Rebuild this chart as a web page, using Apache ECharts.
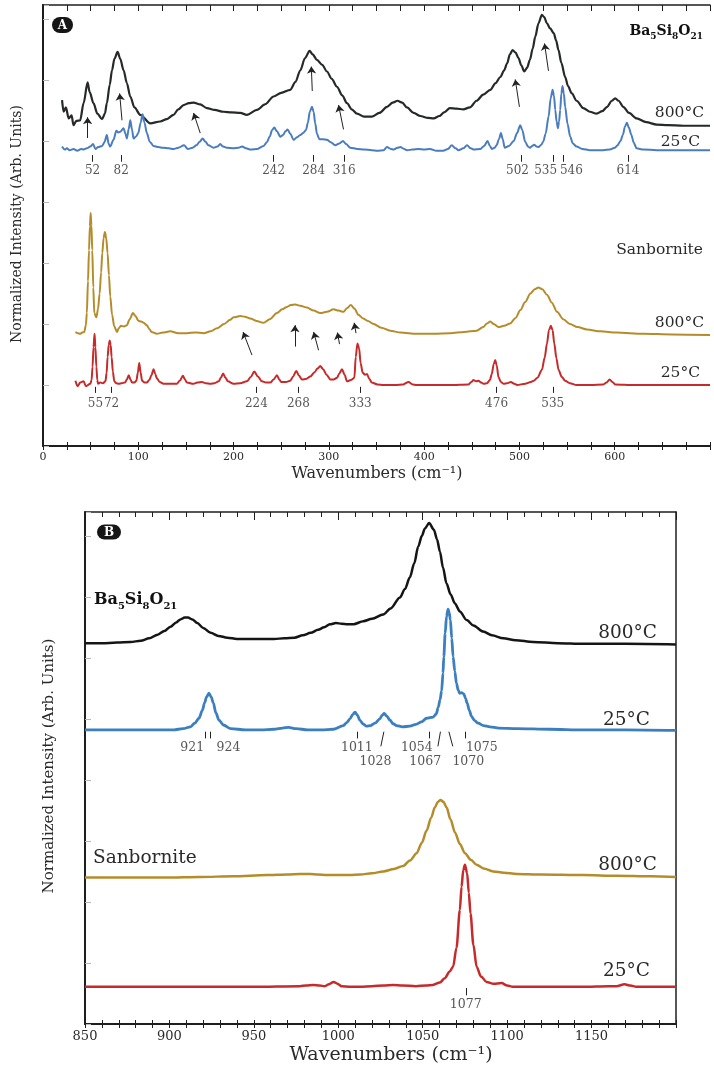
<!DOCTYPE html>
<html>
<head>
<meta charset="utf-8">
<script src="https://cdn.jsdelivr.net/npm/echarts@6/dist/echarts.min.js"></script>
<style>
html, body { margin: 0; padding: 0; background: #fff; }
#chart { width: 714px; height: 1072px; }
</style>
</head>
<body>
<div id="chart"></div>
<script>
// === DATA ===
// Panel A, Ba5Si8O21 800°C
const a800Ba = [[20,5.67],[21.6,5.48],[24,5.55],[27,5.37],[30,5.42],[32,5.26],[35,5.33],[39,5.34],[42.6,5.62],[46.8,5.96],[49,5.80],[53,5.62],[57,5.45],[62,5.36],[65,5.45],[67,5.62],[70,5.92],[72.4,6.16],[75,6.35],[78.3,6.46],[81,6.35],[84.6,6.16],[88,5.95],[91.6,5.73],[96,5.55],[102,5.43],[112.6,5.29],[123,5.32],[130,5.36],[137,5.43],[142,5.52],[147.5,5.59],[153,5.62],[158,5.63],[165,5.60],[172,5.54],[180,5.51],[189.5,5.48],[198,5.47],[207,5.46],[214,5.43],[224.5,5.51],[233,5.60],[242,5.73],[250,5.79],[259.5,5.84],[265,5.97],[270,6.16],[275,6.36],[279.8,6.48],[283,6.42],[287.5,6.33],[293,6.25],[298,6.14],[303,6.02],[308.5,5.89],[314,5.75],[319,5.62],[324,5.52],[329.5,5.45],[337,5.40],[345,5.40],[353,5.46],[361,5.56],[367,5.63],[372,5.66],[377,5.63],[382,5.55],[389,5.46],[396,5.41],[404,5.38],[410,5.37],[416,5.41],[421,5.47],[427,5.54],[434,5.53],[441,5.52],[448,5.55],[455,5.66],[462,5.76],[469.4,5.84],[475,5.95],[480,6.05],[484,6.16],[487,6.27],[490,6.42],[492.8,6.49],[496,6.45],[499,6.36],[502,6.24],[505,6.14],[508,6.20],[511,6.33],[514,6.52],[516.6,6.71],[520,6.93],[523.6,7.07],[526,7.03],[528.9,6.93],[532,6.85],[536,6.77],[538.5,6.65],[541,6.49],[544,6.28],[548,6.05],[551,5.90],[555,5.78],[560,5.66],[567,5.54],[574,5.48],[581,5.45],[587,5.49],[592,5.56],[597,5.66],[600.5,5.70],[604,5.66],[609,5.56],[615,5.46],[623,5.37],[633,5.31],[644,5.27],[656,5.26],[672,5.25],[700,5.25]];
// Panel A, Ba5Si8O21 25°C
const a25Ba = [[20,4.91],[23,4.86],[25,4.88],[28,4.85],[32,4.87],[36,4.84],[40,4.87],[42.6,4.86],[46,4.88],[49.6,4.91],[52.5,4.95],[55,4.87],[58,4.90],[62,4.92],[64.5,4.98],[67,5.10],[69,4.95],[70.5,4.91],[74,5.02],[77,5.17],[79,5.14],[81,5.15],[84.6,5.21],[86.5,5.12],[88,5.04],[90,5.20],[91.6,5.34],[93.5,5.18],[95,5.04],[98,5.08],[100,5.13],[102.5,5.30],[104.5,5.44],[106.5,5.30],[109,5.13],[112,4.99],[116,4.92],[121,4.90],[126,4.89],[132,4.88],[137,4.87],[142,4.89],[148,4.93],[152,4.87],[157,4.89],[161,4.93],[164.5,4.99],[167.5,5.04],[170.5,4.99],[173.6,4.93],[179,4.89],[183,4.91],[186,4.95],[189,4.91],[193,4.89],[200,4.88],[205,4.89],[209,4.91],[213,4.88],[218,4.86],[225,4.87],[231.5,4.92],[235,4.98],[237.8,5.07],[240.5,5.18],[242.7,5.22],[245.5,5.16],[249,5.07],[252,5.10],[254.5,5.16],[256.7,5.19],[259.5,5.12],[263,5.02],[266.5,5.06],[270,5.10],[273,5.13],[276,5.18],[278,5.30],[280,5.48],[282.3,5.56],[284,5.48],[285.7,5.29],[287.5,5.12],[290,5.03],[294,5.03],[298,5.02],[302,4.98],[306.7,4.93],[311,4.96],[314.8,5.00],[318,4.95],[322.5,4.89],[330,4.87],[337,4.86],[345,4.85],[351,4.84],[357.5,4.85],[361,4.90],[365,4.87],[368,4.86],[372,4.89],[375,4.90],[379,4.87],[382,4.85],[388,4.86],[394,4.87],[400,4.86],[406,4.87],[413,4.84],[420,4.84],[425,4.87],[429,4.93],[433,4.88],[436,4.85],[441,4.88],[445,4.93],[449,4.88],[451.7,4.86],[459,4.87],[463,4.92],[466.5,5.00],[469,4.92],[471,4.87],[474,4.89],[476,4.93],[478.5,5.03],[480.6,5.13],[482.5,5.03],[484.5,4.89],[489,4.92],[494,5.00],[497.5,5.13],[500.8,5.26],[503,5.18],[506,4.99],[509,4.91],[511,4.89],[513.5,4.92],[515.5,4.94],[518,4.91],[520,4.90],[523,4.94],[525,4.99],[527.5,5.12],[530.6,5.40],[532.8,5.70],[534.8,5.84],[536.3,5.74],[537.6,5.51],[539,5.32],[540.4,5.21],[541.6,5.32],[542.8,5.51],[544,5.78],[545.2,5.90],[546.6,5.78],[548,5.56],[550.5,5.28],[553.3,5.07],[556,4.96],[560,4.91],[566,4.87],[574,4.85],[581,4.85],[588,4.85],[595,4.86],[600,4.89],[603,4.93],[606,5.00],[608.6,5.10],[610.8,5.24],[612.8,5.30],[614.8,5.22],[617.5,5.10],[620,4.97],[623,4.88],[630,4.86],[644,4.85],[670,4.85],[700,4.85]];
// Panel A, Sanbornite 800°C
const a800San = [[34,1.87],[36.5,1.85],[39,1.84],[41,1.86],[43.3,1.87],[45,1.98],[46,2.18],[47.2,2.70],[48.3,3.21],[49.2,3.60],[50,3.82],[50.8,3.62],[51.7,3.21],[52.8,2.60],[53.8,2.18],[56,2.11],[57.8,2.25],[59.4,2.50],[61,2.85],[62.2,3.16],[63.6,3.41],[65,3.51],[66.4,3.40],[67.8,3.16],[69.2,2.80],[70.6,2.45],[72.5,2.15],[74.8,1.96],[77.6,1.87],[79.5,1.93],[81.8,1.97],[85,1.96],[88,1.98],[91,2.08],[94.4,2.18],[97,2.13],[100.3,2.05],[103,2.04],[105.6,2.02],[109,1.98],[111.5,1.92],[114,1.87],[119.5,1.84],[126,1.86],[133.5,1.88],[142,1.85],[151,1.85],[160,1.86],[168.7,1.85],[176,1.88],[182.6,1.93],[190,2.00],[196.5,2.07],[200,2.11],[207,2.13],[212,2.12],[217.5,2.09],[224,2.05],[231.5,2.02],[238,2.08],[245.5,2.18],[251,2.24],[256,2.28],[260,2.31],[264.7,2.32],[270,2.30],[277,2.27],[284,2.22],[291,2.18],[298,2.20],[305,2.24],[310,2.22],[315.4,2.20],[319,2.26],[323,2.31],[327,2.25],[331,2.15],[336,2.09],[341,2.05],[347,2.00],[355,1.94],[364.4,1.89],[375,1.86],[392.4,1.84],[410,1.84],[427.4,1.85],[442,1.87],[455,1.89],[462,1.95],[466,2.01],[469.4,2.04],[473,2.00],[478,1.95],[484,1.97],[490.3,2.01],[496,2.10],[501,2.23],[506,2.36],[511.5,2.50],[516,2.57],[520,2.60],[524,2.57],[528.9,2.48],[534,2.35],[539.4,2.20],[546,2.08],[553,2.00],[561,1.95],[570.8,1.91],[585,1.88],[602,1.86],[630,1.84],[660,1.83],[700,1.82]];
// Panel A, Sanbornite 25°C
const a25San = [[34,1.07],[36.4,0.98],[39,1.04],[42.6,1.06],[45,0.98],[49.6,1.02],[51,1.08],[52,1.30],[53,1.62],[54.1,1.84],[55,1.62],[56,1.30],[57,1.08],[57.7,1.02],[60,1.04],[63,1.03],[65.5,1.06],[66.8,1.20],[67.8,1.46],[69,1.66],[70,1.73],[71,1.66],[72,1.46],[73.3,1.22],[74.8,1.06],[77,1.03],[79.5,1.02],[82.5,1.03],[86,1.04],[88,1.09],[90,1.16],[91.8,1.09],[93.4,1.04],[96,1.04],[98,1.07],[99.5,1.20],[101,1.36],[102.5,1.20],[104,1.07],[106.5,1.04],[109,1.04],[111.5,1.08],[113.8,1.16],[116,1.26],[117.8,1.18],[119.5,1.11],[122.5,1.05],[126.5,1.02],[133,1.02],[140.5,1.02],[143.5,1.07],[146.8,1.15],[149,1.09],[151,1.04],[158,1.02],[162,1.04],[166.8,1.05],[171,1.03],[175.6,1.02],[180,1.03],[184.4,1.06],[186.7,1.12],[189,1.19],[191.5,1.12],[194,1.06],[200,1.02],[207,1.03],[214,1.06],[218,1.13],[221.7,1.22],[225.5,1.14],[229.8,1.06],[234,1.04],[238.5,1.04],[242,1.09],[245.5,1.16],[248,1.09],[250,1.05],[255,1.05],[259.5,1.07],[262.5,1.14],[265.8,1.23],[268.8,1.15],[271.8,1.09],[276,1.10],[280.5,1.14],[285,1.21],[288,1.27],[291,1.31],[294,1.26],[297.5,1.17],[301.6,1.09],[305,1.09],[308.6,1.12],[311,1.19],[313.7,1.26],[316.5,1.17],[319,1.06],[323,1.08],[326.8,1.12],[328.2,1.46],[330,1.68],[331.8,1.60],[333.3,1.36],[335.5,1.20],[338,1.17],[340,1.18],[342.5,1.10],[345,1.04],[351,1.01],[357.5,1.00],[370,1.00],[378,1.01],[383.6,1.05],[388,1.01],[392,1.00],[410,1.00],[427.4,1.00],[446.6,1.01],[449.5,1.05],[451.8,1.08],[454.5,1.06],[457,1.07],[460,1.04],[462.4,1.02],[466,1.03],[469,1.08],[471,1.18],[473,1.34],[474.6,1.41],[476.2,1.32],[478,1.13],[480.5,1.05],[483.5,1.02],[487,1.03],[491,1.05],[494.5,1.02],[497.6,1.00],[506,1.02],[512,1.05],[515,1.07],[519,1.12],[523.6,1.25],[526.5,1.45],[528.9,1.68],[531,1.90],[533,1.97],[534.8,1.90],[536.6,1.68],[538.8,1.44],[541,1.25],[544.5,1.13],[548,1.07],[553,1.03],[560,1.00],[575,1.00],[588,1.01],[591.5,1.04],[594.6,1.09],[597.5,1.05],[600.5,1.01],[620,1.00],[660,1.00],[700,1.00]];

// Panel B, Ba5Si8O21 800°C
const b800Ba = [[850,6.24],[860,6.24],[869,6.25],[877,6.26],[883,6.28],[888,6.32],[893,6.38],[897,6.44],[900.6,6.51],[904,6.58],[906.5,6.63],[909,6.66],[911,6.66],[913.5,6.63],[916.5,6.57],[920,6.49],[924.4,6.41],[929,6.36],[934.3,6.33],[940,6.31],[946,6.31],[954,6.31],[962,6.31],[968,6.32],[974,6.33],[979,6.37],[983.7,6.41],[988,6.46],[991.6,6.50],[995,6.55],[998.6,6.57],[1002,6.56],[1005.5,6.55],[1009,6.55],[1014.8,6.60],[1020,6.64],[1026.6,6.71],[1031,6.81],[1036.5,6.99],[1039.5,7.13],[1042.4,7.32],[1045,7.55],[1047.3,7.82],[1049.5,8.00],[1051.3,8.12],[1053.8,8.21],[1056.6,8.10],[1058.5,7.94],[1060.2,7.74],[1062,7.48],[1064.1,7.22],[1066.5,7.04],[1069.1,6.89],[1072,6.76],[1076,6.62],[1080,6.53],[1085.8,6.43],[1091,6.37],[1097.7,6.32],[1105,6.29],[1115.4,6.26],[1130,6.24],[1145,6.23],[1170,6.23],[1200,6.22]];
// Panel B, Ba5Si8O21 25°C
const b25Ba = [[850,4.82],[879,4.82],[902.5,4.82],[908,4.84],[912.5,4.87],[915,4.93],[917.5,5.01],[919.5,5.14],[920.8,5.26],[922,5.36],[923.4,5.42],[924.7,5.36],[926,5.26],[927.5,5.10],[929.3,4.98],[932,4.90],[936.3,4.84],[945,4.82],[954,4.82],[962,4.83],[967,4.85],[970.6,4.86],[975,4.84],[982,4.82],[990,4.82],[997,4.83],[1003,4.89],[1005,4.94],[1006.9,5.00],[1008.5,5.07],[1009.9,5.11],[1011.3,5.06],[1012.8,4.98],[1014.5,4.92],[1016.8,4.88],[1019,4.89],[1021.7,4.93],[1024.6,5.00],[1026,5.06],[1027.2,5.09],[1028.6,5.05],[1030.6,4.98],[1032.5,4.92],[1034.5,4.89],[1038,4.87],[1042.4,4.88],[1046,4.91],[1049.3,4.95],[1052.3,5.01],[1056.2,5.03],[1058,5.08],[1059.2,5.19],[1060.3,5.32],[1061.2,5.46],[1062,5.75],[1062.5,6.02],[1063.3,6.40],[1064.1,6.68],[1065,6.80],[1065.7,6.74],[1066.4,6.62],[1067.2,6.32],[1068,6.02],[1069,5.78],[1070,5.58],[1071,5.47],[1071.9,5.42],[1073,5.43],[1074.3,5.41],[1075.3,5.34],[1076.3,5.26],[1077.6,5.14],[1078.9,5.04],[1080.8,4.97],[1082.8,4.93],[1086,4.89],[1089.8,4.87],[1095,4.85],[1105.6,4.84],[1125,4.83],[1145,4.82],[1170,4.82],[1200,4.81]];
// Panel B, Sanbornite 800°C
const b800San = [[850,2.40],[875,2.40],[898,2.40],[918,2.41],[937.8,2.42],[957.6,2.44],[970,2.45],[977.3,2.46],[983.2,2.46],[988,2.45],[993,2.44],[1000,2.44],[1006.8,2.44],[1013,2.45],[1020,2.47],[1026.6,2.50],[1033,2.54],[1038.4,2.59],[1042.5,2.68],[1046.4,2.80],[1049.5,2.97],[1052.3,3.17],[1055,3.38],[1057.2,3.55],[1059,3.64],[1060.6,3.67],[1062.3,3.64],[1064.1,3.55],[1066.5,3.35],[1069.1,3.14],[1072,2.95],[1075,2.80],[1078.5,2.69],[1081.9,2.61],[1086,2.55],[1091.8,2.50],[1098,2.48],[1105.6,2.46],[1120,2.45],[1145,2.44],[1165,2.43],[1185,2.42],[1200,2.41]];
// Panel B, Sanbornite 25°C
const b25San = [[850,0.61],[880,0.61],[918,0.61],[950,0.61],[977.3,0.62],[981,0.63],[985.2,0.64],[989,0.63],[992,0.62],[994.5,0.65],[997.2,0.69],[999.5,0.66],[1002,0.62],[1007,0.61],[1013,0.61],[1020,0.62],[1027,0.63],[1032.5,0.64],[1038,0.63],[1046,0.62],[1052,0.63],[1056,0.64],[1060.2,0.68],[1063,0.75],[1066,0.86],[1068,0.94],[1070,1.25],[1072,1.87],[1073,2.25],[1074,2.52],[1075,2.61],[1076.3,2.47],[1077.3,2.15],[1078.3,1.81],[1080,1.30],[1081.9,0.94],[1084.5,0.78],[1087.8,0.69],[1092,0.66],[1096.7,0.67],[1100,0.63],[1103.4,0.61],[1120,0.61],[1145,0.61],[1160,0.62],[1164.7,0.62],[1169.6,0.65],[1173,0.63],[1176.5,0.61],[1190,0.61],[1200,0.61]];

// peak labels
const aBaPeaks = [52, 82, 242, 284, 316, 502, 535, 546, 614];
const aSanPeaks = [55, 72, 224, 268, 333, 476, 535];
const bBaPeaks = [921, 924, 1011, 1028, 1054, 1067, 1070, 1075];
const bSanPeaks = [1077];

// arrows (tail -> head)
const aBaArrows = [[[46.8,5.05],[46.8,5.39]],[[82.9,5.34],[80.4,5.78]],[[165,5.13],[158,5.46]],[[282.6,5.82],[281.6,6.22]],[[315.4,5.19],[310.2,5.59]],[[500,5.56],[495.6,6.01]],[[530.5,6.15],[526.3,6.60]]];
const aSanArrows = [[[219.3,1.49],[210,1.87]],[[264.4,1.63],[264.4,1.98]],[[289.2,1.57],[284,1.87]],[[311.2,1.67],[309,1.86]],[[328.5,1.85],[326.6,2.02]]];

// === STYLE ===
const FONT = 'DejaVu Serif';
const INK = '#1e1e1e';
const TXT = '#2a2a2a';
const C_BLACK = '#252a29';
const C_BLUE = '#4a7cc0';
const C_GOLD = '#b58c2a';
const C_RED = '#c62a2a';

function xAxes(gi, min, max, interval, split, fs, topMajor, topMinor) {
    return [
        { gridIndex: gi, type: 'value', position: 'bottom', min: min, max: max, interval: interval,
          axisLine: { lineStyle: { color: INK, width: 2 } },
          axisTick: { inside: false, length: 4, lineStyle: { color: INK, width: 1 } },
          minorTick: { show: true, splitNumber: split, length: 4, lineStyle: { color: INK, width: 1 } },
          axisLabel: { fontFamily: FONT, fontSize: fs, color: TXT, margin: 6, showMaxLabel: false,
                       formatter: v => String(v) },
          splitLine: { show: false } },
        { gridIndex: gi, type: 'value', position: 'bottom', min: min, max: max, interval: interval,
          axisLine: { show: false },
          axisTick: { inside: true, length: 4, lineStyle: { color: INK, width: 1 } },
          minorTick: { show: true, splitNumber: split, length: 4, lineStyle: { color: INK, width: 1 } },
          axisLabel: { show: false }, splitLine: { show: false } },
        { gridIndex: gi, type: 'value', position: 'top', min: min, max: max, interval: interval,
          axisLine: { lineStyle: { color: INK, width: 1.5 } },
          axisTick: { inside: true, length: topMajor, lineStyle: { color: INK, width: 1 } },
          minorTick: { show: true, splitNumber: split, length: topMinor, lineStyle: { color: INK, width: 1 } },
          axisLabel: { show: false }, splitLine: { show: false } }
    ];
}

function yAxes(gi, max) {
    return [
        { gridIndex: gi, type: 'value', position: 'left', min: 0, max: max, interval: 1,
          axisLine: { lineStyle: { color: INK, width: 2 } },
          axisTick: { inside: true, length: 6, lineStyle: { color: '#b8b8b8', width: 1 } },
          axisLabel: { show: false }, splitLine: { show: false } },
        { gridIndex: gi, type: 'value', position: 'right', min: 0, max: max,
          axisLine: { lineStyle: { color: INK, width: 1.5 } },
          axisTick: { show: false }, axisLabel: { show: false }, splitLine: { show: false } }
    ];
}

function curve(data, color, xi, yi, w) {
    return { type: 'line', data: data, xAxisIndex: xi, yAxisIndex: yi, showSymbol: false,
             smooth: 0.3, smoothMonotone: 'x', silent: true,
             lineStyle: { color: color, width: w } };
}

function segs(list, xi, yi, arrow) {
    return { type: 'lines', coordinateSystem: 'cartesian2d', xAxisIndex: xi, yAxisIndex: yi, silent: true,
             data: list.map(c => ({ coords: c })),
             symbol: arrow ? ['none', 'arrow'] : 'none', symbolSize: 7,
             lineStyle: { color: '#222', width: 1, opacity: 1 } };
}

function texts(list, xi, yi, fs) {
    return { type: 'scatter', xAxisIndex: xi, yAxisIndex: yi, symbolSize: 0, silent: true,
             data: list.map(t => ({ name: t[0], value: [t[1], t[2]] })),
             label: { show: true, position: 'inside', formatter: '{b}', fontFamily: FONT, fontSize: fs, color: TXT } };
}

// peak tick marks and their labels (a few labels are nudged sideways to stay apart)
const aBaNudge = { 502: -4, 535: -7.5, 546: 8.5 };
const aBaTicks = aBaPeaks.map(p => [[p, 4.77], [p, 4.66]]);
const aBaText = aBaPeaks.map(p => [String(p), p + (aBaNudge[p] || 0), 4.51]);
const aSanTicks = aSanPeaks.map(p => [[p, 0.97], [p, 0.87]]);
const aSanText = aSanPeaks.map(p => [String(p), p, 0.69]);

// panel B label layout: [tick top x, tick bottom x, text x, row]
const bLayout = {
    921: [921, 921, 913.5, 1], 924: [924, 924, 935, 1], 1011: [1011, 1011, 1011, 1],
    1028: [1027, 1025.2, 1022, 2], 1054: [1054, 1054, 1046.5, 1], 1067: [1060.5, 1059, 1051.5, 2],
    1070: [1065.5, 1067.8, 1077, 2], 1075: [1075, 1075, 1085, 1]
};
const bBaTicks = bBaPeaks.map(p => {
    const l = bLayout[p];
    return [[l[0], 4.79], [l[1], l[3] === 1 ? 4.68 : 4.55]];
});
const bBaText = bBaPeaks.map(p => [String(p), bLayout[p][2], bLayout[p][3] === 1 ? 4.52 : 4.30]);
const bSanTicks = bSanPeaks.map(p => [[p - 1.5, 0.59], [p - 1.5, 0.47]]);
const bSanText = bSanPeaks.map(p => [String(p), p - 1.5, 0.31]);

function label(text, x, y, size, align, extra) {
    return Object.assign({ type: 'text', x: x, y: y, silent: true,
        style: { text: text, fontFamily: FONT, fontSize: size, fill: TXT, align: align, verticalAlign: 'middle' } }, extra || {});
}

function formula(x, y, size, align) {
    const sub = Math.round(size * 0.62);
    return { type: 'text', x: x, y: y, silent: true,
        style: { text: '{b|Ba}{s|5}{b|Si}{s|8}{b|O}{s|21}', align: align, verticalAlign: 'middle',
            rich: {
                b: { fontFamily: FONT, fontWeight: 'bold', fontSize: size, fill: '#111', lineHeight: size + 6, verticalAlign: 'middle' },
                s: { fontFamily: FONT, fontWeight: 'bold', fontSize: sub, fill: '#111', lineHeight: size + 6, verticalAlign: 'bottom' }
            } } };
}

function badge(letter, x, y, w, h) {
    return [
        { type: 'rect', silent: true, shape: { x: x - w / 2, y: y - h / 2, width: w, height: h, r: h / 2 }, style: { fill: '#151515' } },
        { type: 'text', x: x, y: y + 0.5, silent: true,
          style: { text: letter, fontFamily: FONT, fontWeight: 'bold', fontSize: 12, fill: '#fff', align: 'center', verticalAlign: 'middle' } }
    ];
}

const chart = echarts.init(document.getElementById('chart'));
chart.setOption({
    animation: false,
    backgroundColor: '#fff',
    grid: [
        { left: 43, top: 5, width: 667, height: 441 },
        { left: 85, top: 512, width: 591, height: 512 }
    ],
    xAxis: [].concat(xAxes(0, 0, 700, 100, 4, 11, 6, 6), xAxes(1, 850, 1200, 50, 5, 13, 8, 5)),
    yAxis: [].concat(yAxes(0, 7.23), yAxes(1, 8.39)),
    series: [
        curve(a800Ba, C_BLACK, 0, 0, 2.2),
        curve(a25Ba, C_BLUE, 0, 0, 2),
        curve(a800San, C_GOLD, 0, 0, 2),
        curve(a25San, C_RED, 0, 0, 2),
        curve(b800Ba, '#151515', 3, 2, 2.5),
        curve(b25Ba, '#3b7fc0', 3, 2, 2.8),
        curve(b800San, C_GOLD, 3, 2, 2.5),
        curve(b25San, C_RED, 3, 2, 2.5),
        segs(aBaArrows, 0, 0, true),
        segs(aSanArrows, 0, 0, true),
        segs(aBaTicks, 0, 0, false),
        segs(aSanTicks, 0, 0, false),
        segs(bBaTicks, 3, 2, false),
        segs(bSanTicks, 3, 2, false),
        texts(aBaText, 0, 0, 12),
        texts(aSanText, 0, 0, 12),
        texts(bBaText, 3, 2, 12.5),
        texts(bSanText, 3, 2, 12.5)
    ],
    graphic: [].concat(
        badge('A', 62.5, 25, 21, 16),
        badge('B', 109, 532, 24, 15),
        [
            formula(703, 31, 14, 'right'),
            label('800°C', 704, 113, 15.5, 'right'),
            label('25°C', 700, 142, 15.5, 'right'),
            label('Sanbornite', 703, 250, 15.5, 'right'),
            label('800°C', 704, 323, 15.5, 'right'),
            label('25°C', 700, 373, 15.5, 'right'),
            label('Wavenumbers (cm⁻¹)', 377, 474, 16, 'center'),
            label('Normalized Intensity (Arb. Units)', 17, 224, 14, 'center', { rotation: Math.PI / 2 }),
            formula(94, 600, 16, 'left'),
            label('800°C', 657, 633, 18.5, 'right'),
            label('25°C', 650, 720, 18.5, 'right'),
            label('Sanbornite', 93, 858, 18.5, 'left'),
            label('800°C', 657, 865, 18.5, 'right'),
            label('25°C', 650, 971, 18.5, 'right'),
            label('Wavenumbers (cm⁻¹)', 391, 1055, 19, 'center'),
            label('Normalized Intensity (Arb. Units)', 49, 766, 15, 'center', { rotation: Math.PI / 2 })
        ]
    )
});
</script>
</body>
</html>
